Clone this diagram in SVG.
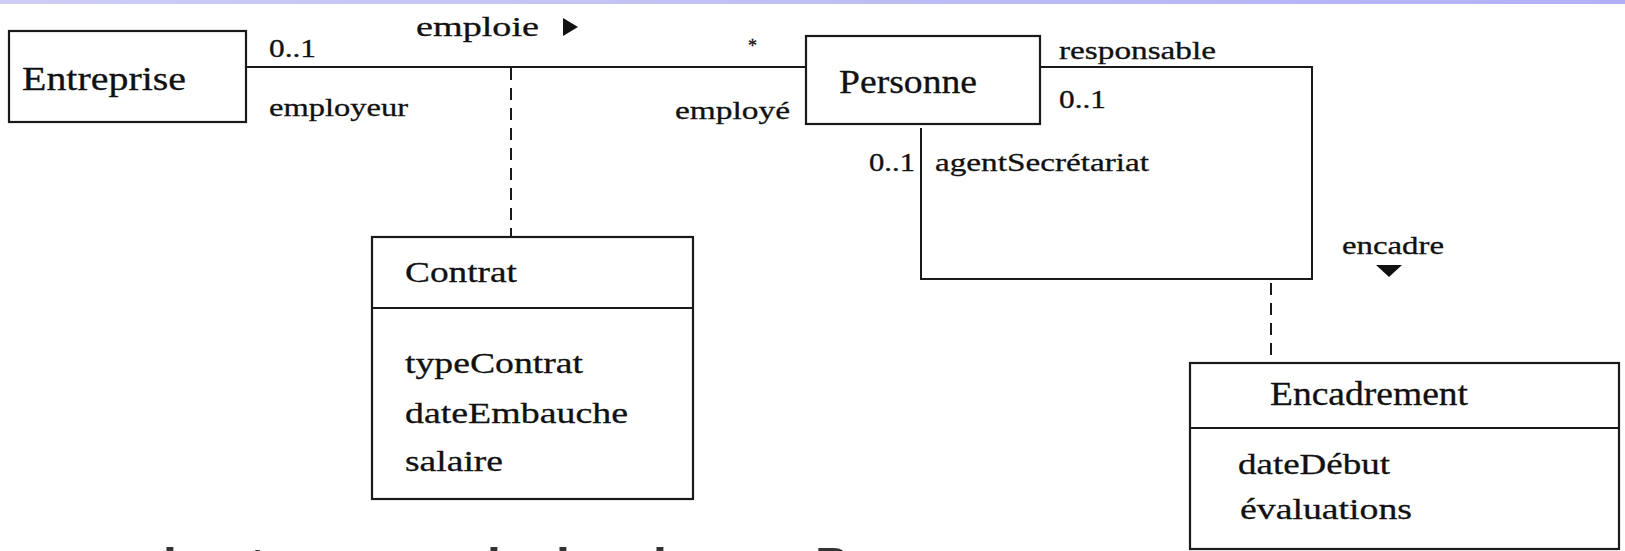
<svg xmlns="http://www.w3.org/2000/svg" width="1625" height="551" viewBox="0 0 1625 551">
<defs>
<linearGradient id="band" x1="0" y1="0" x2="1" y2="0">
<stop offset="0" stop-color="#cdcdf7"/>
<stop offset="1" stop-color="#b0b0f6"/>
</linearGradient>
</defs>
<style>
.box{fill:#fff;stroke:#1a1a1a;stroke-width:2.2}
.ln{fill:none;stroke:#1a1a1a;stroke-width:2}
.dash{fill:none;stroke:#1a1a1a;stroke-width:2;stroke-dasharray:12 8}
.t{font-family:"Liberation Serif","Times New Roman",serif;fill:#111;font-size:25px;stroke:#111;stroke-width:0.3}
.n{font-size:33px}
.a{font-size:30px}
.frag{font-family:"Liberation Sans",Arial,sans-serif;font-weight:bold;font-size:50px;fill:#333}
</style>
<rect x="0" y="0" width="1625" height="551" fill="#fff"/>
<rect x="0" y="0" width="1625" height="4" fill="url(#band)"/>
<g id="connectors">
<line class="ln" x1="246" y1="67" x2="806" y2="67"/>
<line class="dash" x1="511" y1="68" x2="511" y2="237"/>
<polyline class="ln" points="1040,67 1312,67 1312,279 921,279 921,128"/>
<line class="dash" x1="1271" y1="283" x2="1271" y2="363"/>
<polygon points="563,18 578,27 563,36" fill="#111"/>
<polygon points="1376,265 1402,265 1389,277" fill="#111"/>
</g>
<g id="labels">
<text class="t" x="269" y="57" textLength="47" lengthAdjust="spacingAndGlyphs">0..1</text>
<text class="t" x="416" y="36" textLength="123" lengthAdjust="spacingAndGlyphs" style="font-size:28px">emploie</text>
<text class="t" x="748" y="52" style="font-size:18px">*</text>
<text class="t" x="269" y="116" textLength="139" lengthAdjust="spacingAndGlyphs">employeur</text>
<text class="t" x="675" y="119" textLength="115" lengthAdjust="spacingAndGlyphs">employé</text>
<text class="t" x="1059" y="59" textLength="157" lengthAdjust="spacingAndGlyphs">responsable</text>
<text class="t" x="1059" y="108" textLength="47" lengthAdjust="spacingAndGlyphs">0..1</text>
<text class="t" x="869" y="171" textLength="46" lengthAdjust="spacingAndGlyphs">0..1</text>
<text class="t" x="935" y="171" textLength="214" lengthAdjust="spacingAndGlyphs">agentSecrétariat</text>
<text class="t" x="1342" y="254" textLength="102" lengthAdjust="spacingAndGlyphs">encadre</text>
</g>
<g id="node-entreprise">
<rect class="box" x="9" y="31" width="237" height="91"/>
<text class="t n" x="22" y="90" textLength="164" lengthAdjust="spacingAndGlyphs">Entreprise</text>
</g>
<g id="node-personne">
<rect class="box" x="806" y="36" width="234" height="88"/>
<text class="t n" x="839" y="93" textLength="138" lengthAdjust="spacingAndGlyphs">Personne</text>
</g>
<g id="node-contrat">
<rect class="box" x="372" y="237" width="321" height="262"/>
<line class="ln" x1="372" y1="308" x2="693" y2="308"/>
<text class="t a" x="405" y="282" textLength="112" lengthAdjust="spacingAndGlyphs">Contrat</text>
<text class="t a" x="405" y="373" textLength="178" lengthAdjust="spacingAndGlyphs">typeContrat</text>
<text class="t a" x="405" y="423" textLength="223" lengthAdjust="spacingAndGlyphs">dateEmbauche</text>
<text class="t a" x="405" y="471" textLength="98" lengthAdjust="spacingAndGlyphs">salaire</text>
</g>
<g id="node-encadrement">
<rect class="box" x="1190" y="363" width="429" height="186"/>
<line class="ln" x1="1190" y1="428" x2="1619" y2="428"/>
<text class="t n" x="1270" y="405" textLength="198" lengthAdjust="spacingAndGlyphs">Encadrement</text>
<text class="t a" x="1238" y="474" textLength="152" lengthAdjust="spacingAndGlyphs">dateDébut</text>
<text class="t a" x="1240" y="519" textLength="172" lengthAdjust="spacingAndGlyphs">évaluations</text>
</g>
<g id="caption-fragments">
<text class="frag" x="163" y="583">l</text>
<text class="frag" x="249" y="583">t</text>
<text class="frag" x="487" y="583">l</text>
<text class="frag" x="556" y="583">l</text>
<text class="frag" x="653" y="583">l</text>
<text class="frag" x="815" y="583">P</text>
</g>
</svg>
